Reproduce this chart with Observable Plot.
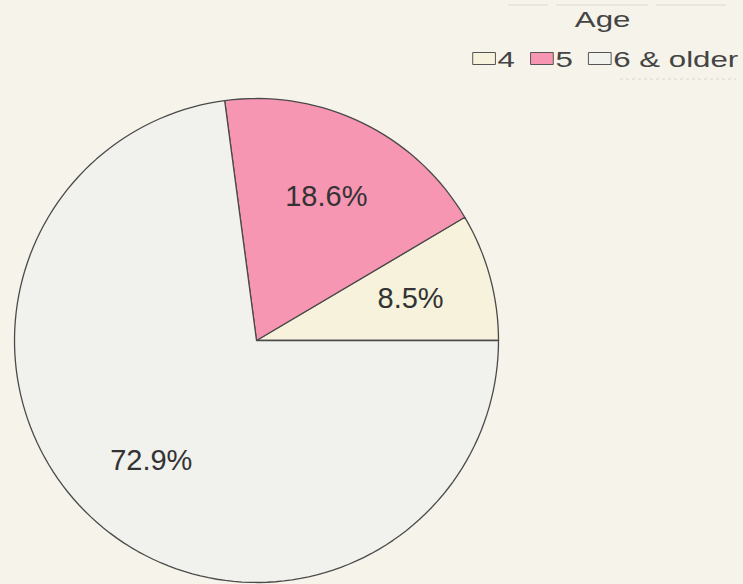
<!DOCTYPE html>
<html>
<head>
<meta charset="utf-8">
<script src="https://cdn.jsdelivr.net/npm/d3@7"></script>
<script src="https://cdn.jsdelivr.net/npm/@observablehq/plot@0.6"></script>
<style>
  html, body { margin: 0; padding: 0; background: #f5f3ea; }
  #wrap { position: relative; width: 743px; height: 584px; overflow: hidden; font-family: "Liberation Sans", Arial, sans-serif; }
  #legend { position: absolute; left: 0; top: 0; }
</style>
</head>
<body>
<div id="wrap"></div>
<script>
// ---- data ----
const categories = ["4", "5", "6 & older"];
const shares = [8.5, 18.6, 72.9];
const sliceLabels = ["8.5%", "18.6%", "72.9%"];
const sliceColors = ["#f6f2dc", "#f796b3", "#f1f1ed"];
const legendTitle = "Age";

// ---- build pie geometry in data space (unit circle), starting at 3 o'clock, counter-clockwise ----
const total = d3.sum(shares);
const ends = d3.cumsum(shares);
const polys = [];
const labelPts = [];
categories.forEach((cat, i) => {
  const a0 = (ends[i] - shares[i]) / total * 2 * Math.PI;
  const a1 = ends[i] / total * 2 * Math.PI;
  polys.push({cat, x: 0, y: 0});
  const n = Math.max(2, Math.ceil((a1 - a0) / (Math.PI / 90)));
  for (let k = 0; k <= n; k++) {
    const a = a0 + (a1 - a0) * k / n;
    polys.push({cat, x: Math.cos(a), y: Math.sin(a)});
  }
  const am = (a0 + a1) / 2;
  labelPts.push({cat, x: 0.66 * Math.cos(am), y: 0.66 * Math.sin(am), text: sliceLabels[i]});
});

const chart = Plot.plot({
  width: 743,
  height: 584,
  margin: 0,
  style: {background: "transparent", fontFamily: "'Liberation Sans', Arial, sans-serif", overflow: "visible"},
  x: {domain: [-1, 1], range: [14, 498], axis: null},
  y: {domain: [-1, 1], range: [582, 98], axis: null},
  color: {type: "ordinal", domain: categories, range: sliceColors},
  marks: [
    Plot.line(polys, {x: "x", y: "y", z: "cat", fill: "cat", stroke: "#4a4a4a", strokeWidth: 1.3, curve: "linear-closed", strokeLinejoin: "round"}),
    Plot.text(labelPts, {x: "x", y: "y", text: "text", fontSize: 29, fill: "#333"})
  ]
});
const wrap = document.getElementById("wrap");
wrap.appendChild(chart);

// ---- legend (horizontally stretched as in the reference) ----
const svg = d3.select(wrap).append("svg").attr("id", "legend")
  .attr("width", 743).attr("height", 90);
// faint frame lines
svg.append("line").attr("x1", 508).attr("x2", 742).attr("y1", 5).attr("y2", 5)
  .attr("stroke", "#dcdad3").attr("stroke-width", 1.2).attr("stroke-dasharray", "40 8 92 8 70");
svg.append("line").attr("x1", 620).attr("x2", 736).attr("y1", 79).attr("y2", 79)
  .attr("stroke", "#d8d6cf").attr("stroke-width", 1).attr("stroke-dasharray", "3 3");

const g = svg.append("g").attr("transform", "translate(472,0) scale(1.42,1)")
  .attr("font-family", "'Liberation Sans', Arial, sans-serif").attr("font-size", 22).attr("fill", "#444");
g.append("text").attr("x", 92).attr("y", 27).attr("text-anchor", "middle").text(legendTitle);
let cx = 0;
categories.forEach((cat, i) => {
  g.append("rect").attr("x", cx + 0.5).attr("y", 52.5).attr("width", 16).attr("height", 12)
    .attr("fill", sliceColors[i]).attr("stroke", "#555").attr("stroke-width", 1)
    .attr("vector-effect", "non-scaling-stroke");
  const t = g.append("text").attr("x", cx + 18).attr("y", 67).text(cat);
  const w = t.node().getComputedTextLength();
  cx += 18 + w + 10.5;
});
</script>
</body>
</html>
